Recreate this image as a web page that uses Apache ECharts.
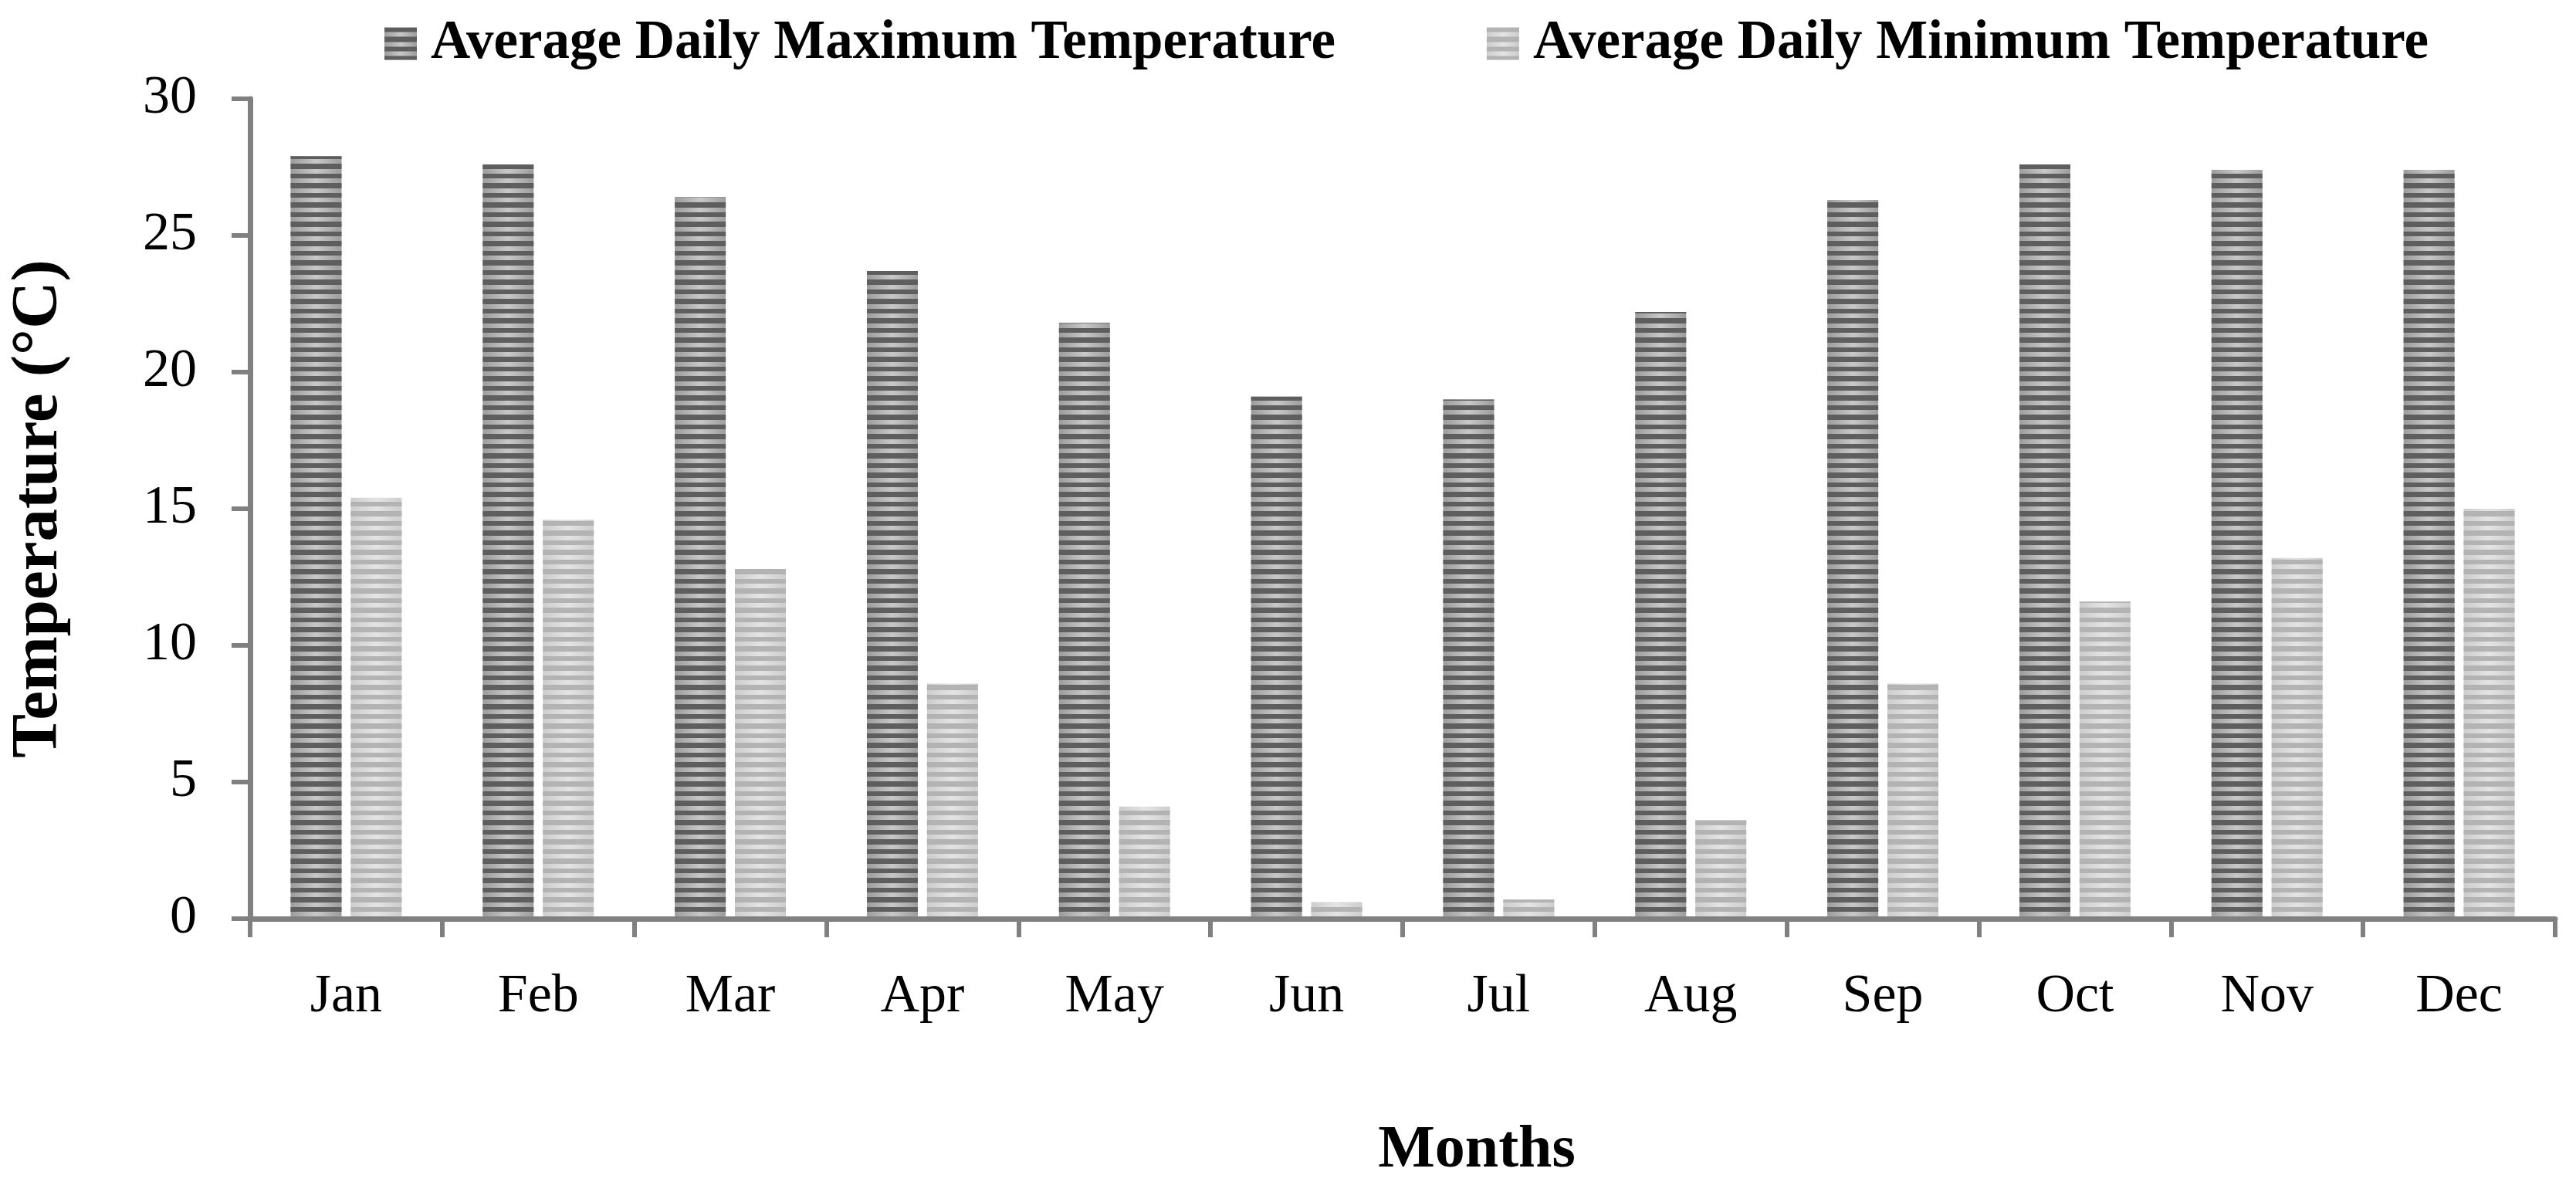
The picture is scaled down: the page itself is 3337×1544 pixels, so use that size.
<!DOCTYPE html>
<html>
<head>
<meta charset="utf-8">
<script src="https://cdn.jsdelivr.net/npm/echarts@6/dist/echarts.min.js"></script>
<style>
html,body{margin:0;padding:0;background:#ffffff;}
#chart{width:3337px;height:1544px;}
</style>
</head>
<body>
<div id="chart"></div>
<script>
// ---- data ----
const months = ['Jan','Feb','Mar','Apr','May','Jun','Jul','Aug','Sep','Oct','Nov','Dec'];
const maxTemp = [27.9, 27.6, 26.4, 23.7, 21.8, 19.1, 19.0, 22.2, 26.3, 27.6, 27.4, 27.4];
const minTemp = [15.4, 14.6, 12.8, 8.6, 4.1, 0.6, 0.7, 3.6, 8.6, 11.6, 13.2, 15.0];
const seriesNames = ['Average Daily Maximum Temperature', 'Average Daily Minimum Temperature'];
const yMin = 0, yMax = 30, yStep = 5;
const xTitle = 'Months';
const yTitle = 'Temperature (°C)';

// ---- styles ----
const FONT = 'Liberation Serif';
const AXIS_COLOR = '#808080';

function hGrad(edge, mid) {
  return {
    type: 'linear', x: 0, y: 0, x2: 1, y2: 0,
    colorStops: [
      {offset: 0, color: edge},
      {offset: 0.5, color: mid},
      {offset: 1, color: edge}
    ]
  };
}

const chart = echarts.init(document.getElementById('chart'), null, {renderer: 'canvas'});

const option = {
  backgroundColor: '#ffffff',
  animation: false,
  legend: {
    left: 493,
    top: 16,
    itemWidth: 42,
    itemHeight: 42,
    itemGap: 196,
    icon: 'rect',
    textStyle: {
      fontFamily: FONT,
      fontWeight: 'bold',
      fontSize: 71,
      color: '#000000',
      padding: [0, 0, 0, 13]
    },
    data: seriesNames
  },
  grid: {
    left: 324,
    right: 27,
    top: 128,
    bottom: 354
  },
  xAxis: {
    type: 'category',
    data: months,
    z: 5,
    boundaryGap: true,
    name: xTitle,
    nameLocation: 'middle',
    nameGap: 262,
    nameTextStyle: {
      fontFamily: FONT,
      fontWeight: 'bold',
      fontSize: 78,
      color: '#000000',
      padding: [0, 0, 0, 192]
    },
    axisLine: {show: true, lineStyle: {color: AXIS_COLOR, width: 7}},
    axisTick: {show: true, alignWithLabel: false, length: 24, lineStyle: {color: AXIS_COLOR, width: 6}},
    axisLabel: {
      margin: 67,
      fontFamily: FONT,
      fontSize: 70,
      color: '#000000'
    },
    splitLine: {show: false}
  },
  yAxis: {
    type: 'value',
    min: yMin,
    max: yMax,
    interval: yStep,
    z: 5,
    name: yTitle,
    nameLocation: 'middle',
    nameGap: 230,
    nameTextStyle: {
      fontFamily: FONT,
      fontWeight: 'bold',
      fontSize: 85,
      color: '#000000'
    },
    axisLine: {show: true, lineStyle: {color: AXIS_COLOR, width: 7}},
    axisTick: {show: true, length: 24, lineStyle: {color: AXIS_COLOR, width: 6}},
    axisLabel: {
      margin: 69,
      fontFamily: FONT,
      fontSize: 70,
      color: '#000000'
    },
    splitLine: {show: false}
  },
  series: [
    {
      name: seriesNames[0],
      type: 'bar',
      data: maxTemp,
      barWidth: 66,
      barGap: '18%',
      itemStyle: {
        color: hGrad('#9c9c9c', '#c8c8c8'),
        decal: {
          symbol: 'rect',
          symbolSize: 1,
          color: '#5e5e5e',
          dashArrayX: [1, 0],
          dashArrayY: [6, 6, 7, 6],
          rotation: 0
        }
      }
    },
    {
      name: seriesNames[1],
      type: 'bar',
      data: minTemp,
      barWidth: 66,
      barGap: '18%',
      itemStyle: {
        color: hGrad('#cdcdcd', '#e4e4e4'),
        decal: {
          symbol: 'rect',
          symbolSize: 1,
          color: '#b3b3b3',
          dashArrayX: [1, 0],
          dashArrayY: [6, 6, 7, 6],
          rotation: 0
        }
      }
    }
  ]
};

chart.setOption(option);
</script>
</body>
</html>
